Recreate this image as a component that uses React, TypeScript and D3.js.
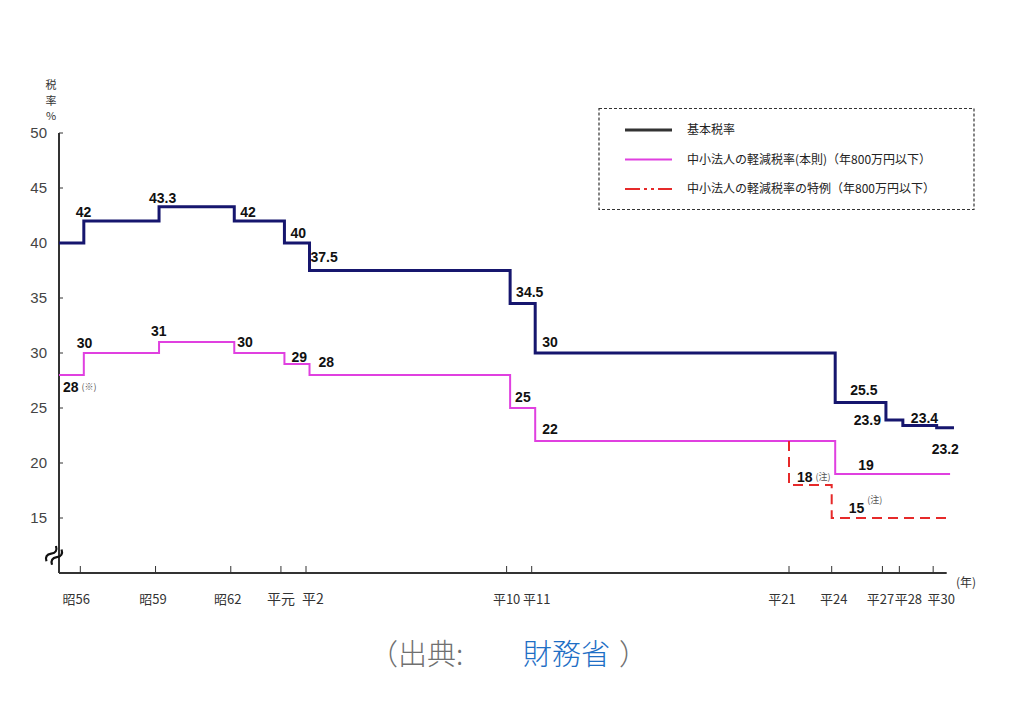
import * as d3 from "d3";

// 法人税率の推移 (基本税率 / 中小法人の軽減税率)
const XMIN = 1980.15;

const tickYears = [1981, 1984, 1987, 1989, 1990, 1998, 1999, 2009, 2012, 2015, 2016, 2018];
const tickLabels = ["昭56", "昭59", "昭62", "平元", "平2", "平10", "平11", "平21", "平24", "平27", "平28", "平30"];
const tickLabelShift = [-4, -2.5, -3, 0, 7, 0, 5, -7, 2, -2, 9, 8];

const yTicks = [15, 20, 25, 30, 35, 40, 45, 50];

const basicYears = [XMIN, 1981, 1984, 1987, 1989, 1990, 1998, 1999, 2012, 2015, 2016, 2018];
const basicRates = [40, 42, 43.3, 42, 40, 37.5, 34.5, 30, 25.5, 23.9, 23.4, 23.2];
const basicEnd = 2019.23;

const smeYears = [XMIN, 1981, 1984, 1987, 1989, 1990, 1998, 1999, 2012];
const smeRates = [28, 30, 31, 30, 29, 28, 25, 22, 19];
const smeEnd = 2019.0;

const specialYears = [2009, 2009, 2012];
const specialRates = [22, 18, 15];
const specialEnd = 2019.0;

// label offsets [dx, dy, anchor] relative to each step corner
const basicLabelPos: [number, number, string][] = [
  [0, 0, "none"], [-8, -4, "start"], [-10, -4, "start"], [6, -4, "start"], [6, -5, "start"],
  [1, -9, "start"], [6, -7, "start"], [7, -6, "start"], [15, -8, "start"], [-5, 5, "end"],
  [8, -3, "start"], [-5, 26, "start"],
];
const smeLabelPos: [number, number, string][] = [
  [4, 17, "start"], [-7, -5, "start"], [-8, -6, "start"], [3, -6, "start"], [7, -2, "start"],
  [9, -8, "start"], [5, -6, "start"], [7, -7, "start"], [23, -4, "start"],
];
const smeNotes = ["(※)", "", "", "", "", "", "", "", ""];
const specialLabelPos: [number, number, string][] = [[0, 0, "none"], [8, -3, "start"], [17, -5, "start"]];
const specialNotes = ["", "(注)", "(注)"];
const specialNoteDy = [0, -2, -10];

const legendItems = [
  "基本税率",
  "中小法人の軽減税率(本則)（年800万円以下）",
  "中小法人の軽減税率の特例（年800万円以下）",
];

const NAVY = "#16166e";
const MAGENTA = "#e040e0";
const RED = "#e62a2a";
const NUM_FONT = "'Liberation Sans', Arial, sans-serif";
const JP_FONT = "'Noto Sans CJK JP', sans-serif";

export default function App() {
  const width = 1024;
  const height = 719;

  const x = d3
    .scaleLinear()
    .domain([XMIN, 1999, 2009, 2012, 2018.8])
    .range([59, 531.7, 789, 831.7, 946.7]);
  const y = d3.scaleLinear().domain([10, 50]).range([573, 133]);

  const stepLine = (shift: number) =>
    d3
      .line<[number, number, boolean]>()
      .x((d) => x(d[0]) + (d[2] ? shift : 0))
      .y((d) => y(d[1]))
      .curve(d3.curveStepAfter);

  const toPts = (ys: number[], vs: number[], end: number) => {
    const pts: [number, number, boolean][] = ys.map((yr, i) => [yr, vs[i], i !== 0]);
    pts.push([end, vs[vs.length - 1], false]);
    return pts;
  };

  const SHIFT = 3.5;
  const basicPath = stepLine(SHIFT)(toPts(basicYears, basicRates, basicEnd)) ?? "";
  const smePath = stepLine(SHIFT)(toPts(smeYears, smeRates, smeEnd)) ?? "";
  const specialPath = stepLine(0)(toPts(specialYears, specialRates, specialEnd)) ?? "";

  const cornerX = (yr: number, i: number, shift: number) => x(yr) + (i === 0 ? 0 : shift);

  const axisY = y(10);
  const axisX = x(XMIN);
  const breakCx = 54;
  const breakCy = y(11.6);

  return (
    <svg
      width={width}
      height={height}
      style={{ position: "absolute", left: 0, top: 0, background: "#fff" }}
    >
      {/* y axis title */}
      {["税", "率", "%"].map((c, i) => (
        <text key={c} x={51} y={89 + i * 15.5} textAnchor="middle" fontSize={11} fill="#333" fontFamily={JP_FONT}>
          {c}
        </text>
      ))}

      {/* y axis */}
      <line x1={axisX} x2={axisX} y1={y(50)} y2={axisY} stroke="#333" strokeWidth={2} />
      {yTicks.map((t) => (
        <g key={t}>
          <line x1={axisX} x2={axisX + 4} y1={y(t)} y2={y(t)} stroke="#333" strokeWidth={1} />
          <text x={47} y={y(t)} dy="0.35em" textAnchor="end" fontSize={15} fill="#444" fontFamily={NUM_FONT}>
            {t}
          </text>
        </g>
      ))}

      {/* break mark */}
      <g transform={`translate(${breakCx},${breakCy}) rotate(-58)`}>
        {[-3.3, 3.3].map((o) => (
          <path
            key={o}
            d={`M -9 ${o} C -6 ${o - 3.5}, -3 ${o - 3.5}, 0 ${o} S 6 ${o + 3.5}, 9 ${o}`}
            fill="none"
            stroke="#111"
            strokeWidth={2.2}
          />
        ))}
      </g>

      {/* x axis */}
      <line x1={axisX} x2={x(2018.8)} y1={axisY} y2={axisY} stroke="#333" strokeWidth={2} />
      {tickYears.map((t, i) => (
        <g key={t}>
          <line x1={x(t)} x2={x(t)} y1={axisY} y2={axisY - 7} stroke="#333" strokeWidth={1} />
          <text
            x={x(t) + tickLabelShift[i]}
            y={604}
            textAnchor="middle"
            fontSize={i === 3 || i === 4 ? 14 : 13}
            fill="#333"
            fontFamily={JP_FONT}
          >
            {tickLabels[i]}
          </text>
        </g>
      ))}
      <text x={956} y={587} fontSize={12} fill="#333" fontFamily={JP_FONT}>
        (年)
      </text>

      {/* series */}
      <path d={smePath} fill="none" stroke={MAGENTA} strokeWidth={2} />
      <path d={specialPath} fill="none" stroke={RED} strokeWidth={2} strokeDasharray="10 6" />
      <path d={basicPath} fill="none" stroke={NAVY} strokeWidth={3} />

      {/* value labels */}
      {basicRates.map((v, i) =>
        basicLabelPos[i][2] === "none" ? null : (
          <text
            key={`b${i}`}
            x={cornerX(basicYears[i], i, SHIFT) + basicLabelPos[i][0]}
            y={y(v) + basicLabelPos[i][1]}
            textAnchor={basicLabelPos[i][2]}
            fontSize={14}
            fontWeight="bold"
            fill="#111"
            fontFamily={NUM_FONT}
          >
            {v}
          </text>
        )
      )}
      {smeRates.map((v, i) => (
        <text
          key={`s${i}`}
          x={cornerX(smeYears[i], i, SHIFT) + smeLabelPos[i][0]}
          y={y(v) + smeLabelPos[i][1]}
          fontSize={14}
          fontWeight="bold"
          fill="#111"
          fontFamily={NUM_FONT}
        >
          {v}
          {smeNotes[i] && (
            <tspan dx={3} dy={-2} fontSize={9} fontWeight="normal" fill="#555" fontFamily={JP_FONT}>
              {smeNotes[i]}
            </tspan>
          )}
        </text>
      ))}
      {specialRates.map((v, i) =>
        specialLabelPos[i][2] === "none" ? null : (
          <text
            key={`r${i}`}
            x={x(specialYears[i]) + specialLabelPos[i][0]}
            y={y(v) + specialLabelPos[i][1]}
            fontSize={14}
            fontWeight="bold"
            fill="#111"
            fontFamily={NUM_FONT}
          >
            {v}
            <tspan dx={3} dy={specialNoteDy[i]} fontSize={9} fontWeight="normal" fill="#555" fontFamily={JP_FONT}>
              {specialNotes[i]}
            </tspan>
          </text>
        )
      )}

      {/* legend */}
      <rect x={599} y={108.5} width={375} height={101} fill="#fff" stroke="#333" strokeWidth={1.2} strokeDasharray="3 2" />
      {legendItems.map((label, i) => {
        const ly = 130 + i * 29.5;
        return (
          <g key={label}>
            <line
              x1={625}
              x2={672}
              y1={ly}
              y2={ly}
              stroke={i === 0 ? "#333" : i === 1 ? MAGENTA : RED}
              strokeWidth={i === 0 ? 3 : 2}
              strokeDasharray={i === 2 ? "15 4 3 4 3 4 15" : undefined}
            />
            <text x={687} y={ly} dy="0.36em" fontSize={12} fill="#222" fontFamily={JP_FONT}>
              {label}
            </text>
          </g>
        );
      })}

      {/* source caption */}
      <text y={665} fontSize={29} fontWeight={300} fontFamily={JP_FONT} fill="#707070">
        <tspan x={369}>（出典:</tspan>
        <tspan x={523} fill="#1f6fc5">財務省</tspan>
        <tspan x={619}>）</tspan>
      </text>
    </svg>
  );
}
